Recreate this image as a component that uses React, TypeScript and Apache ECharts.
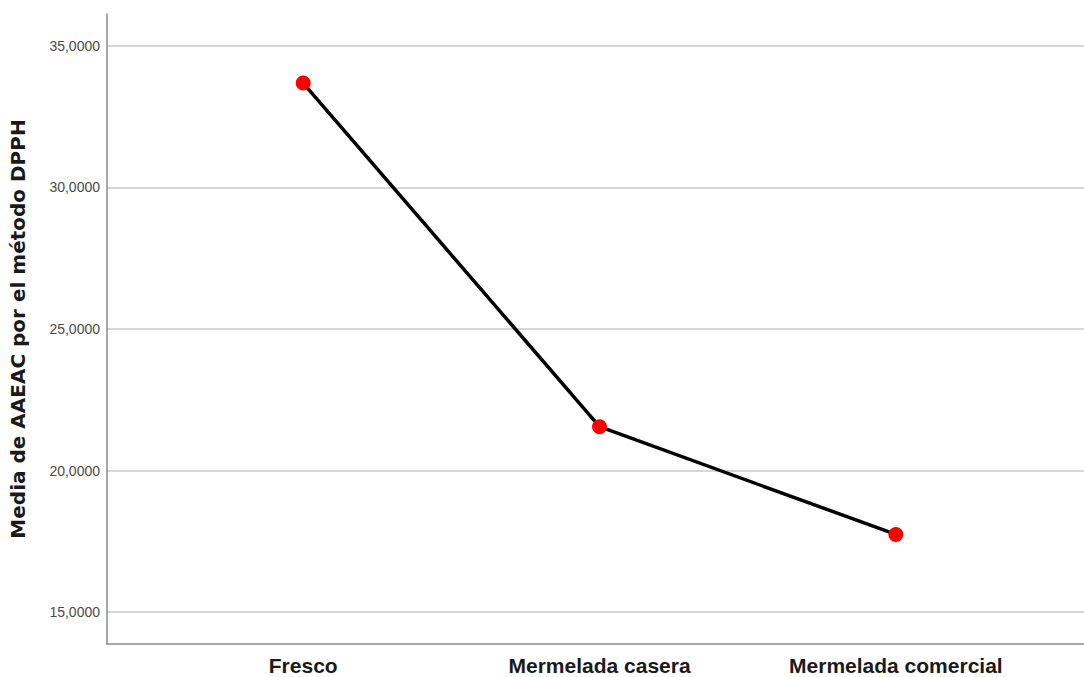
import React, { useEffect, useRef } from "react";
import * as echarts from "echarts";

const categories = ["Fresco", "Mermelada casera", "Mermelada comercial"];
const values = [33.69, 21.55, 17.74];
const yTitle = "Media de AAEAC por el método DPPH";

export default function App() {
  const ref = useRef<HTMLDivElement>(null);
  useEffect(() => {
    if (!ref.current) return;
    const chart = echarts.init(ref.current, undefined, { renderer: "svg" });
    chart.setOption({
      animation: false,
      backgroundColor: "#ffffff",
      grid: {
        left: 107,
        top: 14,
        right: 0,
        bottom: 33,
        containLabel: false,
        outerBoundsMode: "none",
      },
      xAxis: {
        type: "value",
        min: -0.6622,
        max: 2.635,
        axisLine: { show: true, onZero: false, lineStyle: { color: "#8a8a8a", width: 1.5 } },
        axisTick: { show: false },
        splitLine: { show: false },
        axisLabel: {
          customValues: [0, 1, 2],
          formatter: (v: number) => categories[Math.round(v)] ?? "",
          fontFamily: "Liberation Sans, Arial, sans-serif",
          fontWeight: "bold",
          fontSize: 21,
          color: "#1a1a1a",
          margin: 11,
        },
      },
      yAxis: {
        type: "value",
        min: 13.87,
        max: 36.13,
        splitNumber: 5,
        name: yTitle,
        nameLocation: "middle",
        nameGap: 79,
        nameTextStyle: {
          fontFamily: "DejaVu Sans, sans-serif",
          fontWeight: "bold",
          fontSize: 20,
          color: "#1a1a1a",
        },
        axisLine: { show: true, onZero: false, lineStyle: { color: "#8a8a8a", width: 1.5 } },
        axisTick: { show: false },
        axisLabel: {
          showMinLabel: false,
          showMaxLabel: false,
          formatter: (v: number) => v.toFixed(4).replace(".", ","),
          fontFamily: "Liberation Sans, Arial, sans-serif",
          fontSize: 14,
          color: "#4a4a4a",
          margin: 7,
        },
        splitLine: {
          show: true,
          showMinLine: false,
          showMaxLine: false,
          lineStyle: { color: "#d6d6d6", width: 2 },
        },
      },
      series: [
        {
          type: "line",
          data: values.map((v, i) => [i, v]),
          lineStyle: { color: "#000000", width: 3.5 },
          itemStyle: { color: "#ff0000" },
          symbol: "circle",
          symbolSize: 15,
          z: 3,
        },
      ],
    });
    return () => chart.dispose();
  }, []);
  return (
    <div
      ref={ref}
      style={{ position: "fixed", left: 0, top: 0, width: 1084, height: 677 }}
    />
  );
}
